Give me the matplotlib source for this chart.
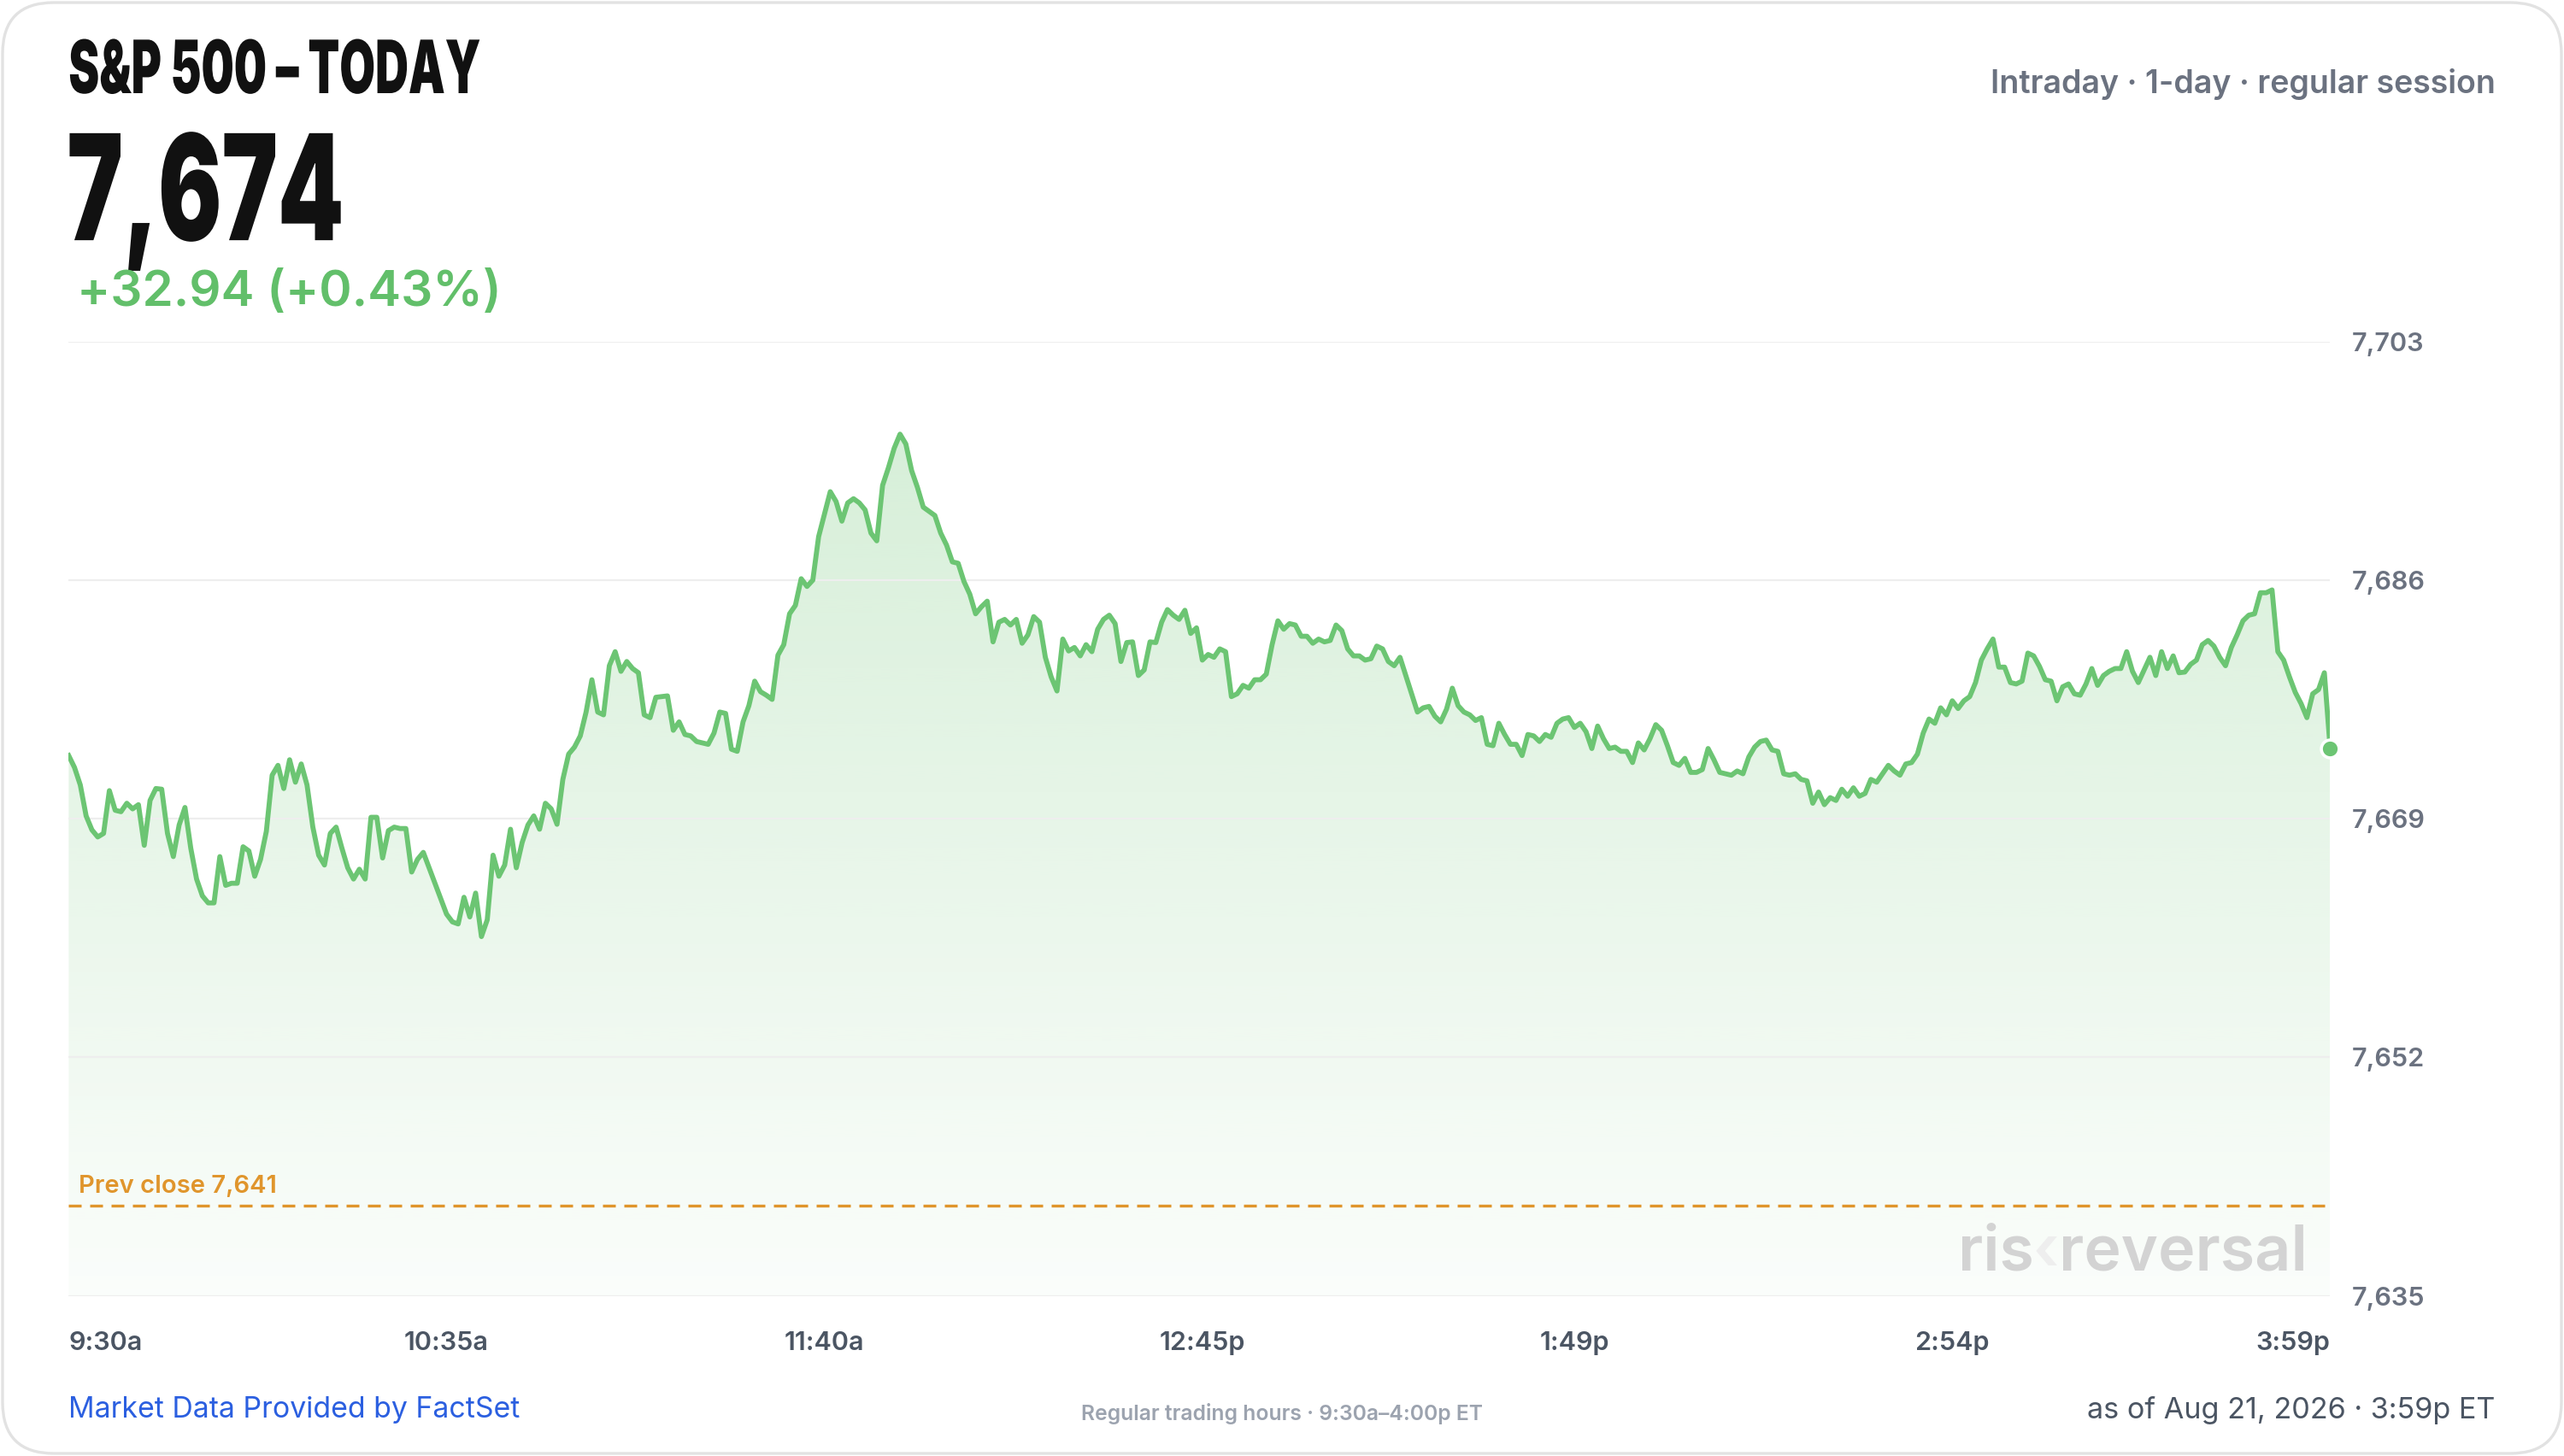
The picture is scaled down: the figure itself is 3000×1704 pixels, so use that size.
import numpy as np
import matplotlib
matplotlib.use("Agg")
import matplotlib.pyplot as plt
from matplotlib import font_manager as fm
from matplotlib import patheffects as pe
from matplotlib.patches import FancyBboxPatch
from matplotlib.colors import to_rgb
from matplotlib.transforms import Affine2D

# S&P 500 one-minute closes, 9:30a .. 3:59p
PRICES = [
    7673.5, 7672.65, 7671.4, 7669.2, 7668.2, 7667.7, 7667.95, 7671.0, 7669.6, 7669.5,
    7670.1, 7669.7, 7670.0, 7667.1, 7670.3, 7671.15, 7671.1, 7667.95, 7666.3, 7668.55,
    7669.8, 7666.9, 7664.7, 7663.5, 7663.0, 7663.0, 7666.3, 7664.25, 7664.4, 7664.4,
    7667.0, 7666.7, 7664.9, 7666.1, 7668.1, 7672.1, 7672.8, 7671.15, 7673.2, 7671.6,
    7672.9, 7671.4, 7668.4, 7666.4, 7665.7, 7667.95, 7668.4, 7666.9, 7665.5, 7664.7,
    7665.4, 7664.7, 7669.1, 7669.1, 7666.2, 7668.15, 7668.4, 7668.3, 7668.3, 7665.2,
    7666.1, 7666.6, 7665.5, 7664.4, 7663.3, 7662.2, 7661.65, 7661.5, 7663.4, 7662.0,
    7663.7, 7660.6, 7661.8, 7666.4, 7664.9, 7665.7, 7668.25, 7665.5, 7667.3, 7668.55,
    7669.2, 7668.25, 7670.1, 7669.7, 7668.6, 7671.8, 7673.6, 7674.1, 7674.9, 7676.6,
    7678.9, 7676.6, 7676.4, 7679.9, 7680.9, 7679.5, 7680.2, 7679.7, 7679.4, 7676.4,
    7676.2, 7677.65, 7677.7, 7677.75, 7675.3, 7675.9, 7675.0, 7674.9, 7674.5, 7674.4,
    7674.3, 7675.1, 7676.6, 7676.5, 7673.95, 7673.8, 7675.9, 7677.05, 7678.8, 7678.05,
    7677.8, 7677.5, 7680.65, 7681.4, 7683.6, 7684.2, 7686.1, 7685.55, 7686.0, 7689.1,
    7690.7, 7692.3, 7691.6, 7690.2, 7691.5, 7691.8, 7691.5, 7691.0, 7689.35, 7688.8,
    7692.75, 7694.0, 7695.4, 7696.4, 7695.7, 7693.8, 7692.6, 7691.2, 7690.9, 7690.6,
    7689.35, 7688.5, 7687.3, 7687.2, 7685.9, 7685.0, 7683.6, 7684.1, 7684.5, 7681.6,
    7683.0, 7683.2, 7682.8, 7683.2, 7681.5, 7682.1, 7683.4, 7683.0, 7680.5, 7679.1,
    7678.1, 7681.8, 7680.95, 7681.2, 7680.6, 7681.4, 7680.9, 7682.5, 7683.2, 7683.5,
    7682.9, 7680.2, 7681.55, 7681.6, 7679.2, 7679.6, 7681.6, 7681.55, 7683.0, 7683.9,
    7683.5, 7683.2, 7683.85, 7682.2, 7682.6, 7680.3, 7680.7, 7680.5, 7681.1, 7680.9,
    7677.7, 7677.9, 7678.5, 7678.3, 7678.9, 7678.9, 7679.3, 7681.4, 7683.1, 7682.5,
    7682.9, 7682.8, 7682.0, 7682.0, 7681.5, 7681.8, 7681.6, 7681.7, 7682.8, 7682.4,
    7681.1, 7680.6, 7680.6, 7680.3, 7680.4, 7681.3, 7681.1, 7680.2, 7679.9, 7680.5,
    7679.2, 7677.9, 7676.6, 7676.9, 7677.0, 7676.3, 7675.9, 7676.8, 7678.3, 7677.05,
    7676.6, 7676.4, 7676.0, 7676.2, 7674.3, 7674.2, 7675.8, 7675.0, 7674.3, 7674.3,
    7673.5, 7675.0, 7674.9, 7674.5, 7675.0, 7674.8, 7675.8, 7676.1, 7676.2, 7675.5,
    7675.8, 7675.2, 7674.0, 7675.6, 7674.7, 7674.0, 7674.1, 7673.8, 7673.8, 7673.0,
    7674.4, 7673.9, 7674.7, 7675.7, 7675.3, 7674.2, 7673.0, 7672.8, 7673.3, 7672.3,
    7672.3, 7672.5, 7674.0, 7673.2, 7672.3, 7672.2, 7672.1, 7672.4, 7672.2, 7673.4,
    7674.1, 7674.5, 7674.6, 7673.9, 7673.8, 7672.2, 7672.1, 7672.2, 7671.8, 7671.7,
    7670.1, 7670.9, 7670.0, 7670.5, 7670.3, 7671.1, 7670.6, 7671.2, 7670.6, 7670.8,
    7671.8, 7671.6, 7672.2, 7672.8, 7672.4, 7672.1, 7672.9, 7673.0, 7673.6, 7675.1,
    7676.1, 7675.8, 7676.9, 7676.4, 7677.4, 7676.85, 7677.4, 7677.7, 7678.7, 7680.3,
    7681.1, 7681.8, 7679.8, 7679.8, 7678.7, 7678.6, 7678.8, 7680.8, 7680.6, 7679.85,
    7678.9, 7678.8, 7677.4, 7678.4, 7678.6, 7677.9, 7677.8, 7678.6, 7679.7, 7678.5,
    7679.2, 7679.5, 7679.7, 7679.7, 7680.9, 7679.5, 7678.7, 7679.6, 7680.5, 7679.2,
    7680.9, 7679.7, 7680.6, 7679.4, 7679.45, 7680.0, 7680.3, 7681.4, 7681.7, 7681.3,
    7680.5, 7679.9, 7681.2, 7682.1, 7683.1, 7683.5, 7683.6, 7685.1, 7685.1, 7685.3,
    7680.9, 7680.3, 7679.1, 7678.0, 7677.2, 7676.2, 7677.9, 7678.2, 7679.4, 7674.0,
]
PREV_CLOSE = 7641.4
LAST_LABEL = "7,674"
CHANGE_LABEL = "+32.94 (+0.43%)"
Y_TICKS = [7635, 7652, 7669, 7686, 7703]
X_TICKS = [0, 65, 130, 195, 259, 324, 389]          # minutes after 9:30
X_LABELS = ["9:30a", "10:35a", "11:40a", "12:45p", "1:49p", "2:54p", "3:59p"]

GREEN = "#6cc573"
GREEN_TXT = "#62bf6a"
ORANGE = "#e0952c"
GRAY = "#6b7280"
DARK_GRAY = "#4b5563"
GRID = "#eeeeee"

_names = {f.name for f in fm.fontManager.ttflist}
UI = "Inter" if "Inter" in _names else "DejaVu Sans"

W, H = 1568, 891  # reference layout units


def fx(px):
    return px / W


def fy(py):
    return 1 - py / H


class HStretch(pe.AbstractPathEffect):
    """Squeeze glyphs horizontally (poor man's condensed face)."""
    def __init__(self, sx):
        super().__init__()
        self.sx = sx

    def draw_path(self, renderer, gc, tpath, affine, rgbFace=None):
        renderer.draw_path(gc, tpath, Affine2D().scale(self.sx, 1) + affine, rgbFace)


fig = plt.figure(figsize=(15, 8.52), dpi=200)
fig.patch.set_facecolor("white")

# card border
card = FancyBboxPatch((3, 3), 2994, 1698, boxstyle="round,pad=0,rounding_size=60",
                      transform=None, facecolor="white", edgecolor="#e2e2e2", lw=1.2, zorder=-5)
fig.patches.append(card)

ax = fig.add_axes([fx(42), fy(793), fx(1425) - fx(42), fy(209) - fy(793)])
ax.set_facecolor("none")
x = np.arange(len(PRICES))
y = np.array(PRICES)

# gradient fill clipped under the line
grad = np.zeros((256, 1, 4))
grad[..., :3] = to_rgb(GREEN)
grad[:, 0, 3] = np.linspace(0.03, 0.30, 256)
im = ax.imshow(grad, extent=(0, x[-1], Y_TICKS[0], Y_TICKS[-1]), origin="lower",
               aspect="auto", interpolation="bilinear", zorder=1)
poly = ax.fill_between(x, y, Y_TICKS[0], color="none", lw=0)
im.set_clip_path(poly.get_paths()[0], transform=ax.transData)

ax.plot(x, y, color=GREEN, lw=2.1, zorder=4, solid_joinstyle="round")
ax.plot(x[-1], y[-1], "o", ms=7.5, color=GREEN, mec="white", mew=1.3, zorder=5, clip_on=False)

ax.axhline(PREV_CLOSE, color=ORANGE, lw=1.2, ls=(0, (4.5, 3)), zorder=3)
ax.text(1.7, 7642.8, f"Prev close {PREV_CLOSE:,.0f}", color=ORANGE, fontsize=10.5,
        fontweight="semibold", family=UI, va="center", ha="left", zorder=5)

ax.set_xlim(0, x[-1])
ax.set_ylim(Y_TICKS[0], Y_TICKS[-1])
ax.set_yticks(Y_TICKS)
ax.set_yticklabels([f"{v:,}" for v in Y_TICKS])
ax.yaxis.tick_right()
ax.grid(True, axis="y", color=GRID, lw=0.8, zorder=0)
ax.set_xticks(X_TICKS)
ax.set_xticklabels(X_LABELS)
ax.tick_params(axis="y", length=0, pad=9, labelsize=11, labelcolor=GRAY)
ax.tick_params(axis="x", length=0, pad=15, labelsize=11, labelcolor=DARK_GRAY)
for lab in ax.get_yticklabels() + ax.get_xticklabels():
    lab.set_fontfamily(UI)
    lab.set_fontweight("semibold")
xl = ax.get_xticklabels()
xl[0].set_ha("left")
xl[-1].set_ha("right")
for s in ax.spines.values():
    s.set_visible(False)

# header
fig.text(fx(42), fy(57), "S&P 500 – TODAY", family=UI, fontweight="black",
         fontsize=31, color="#111111", ha="left", va="baseline",
         path_effects=[HStretch(0.625)])
fig.text(fx(41), fy(147), LAST_LABEL, family=UI, fontweight="black",
         fontsize=62, color="#111111", ha="left", va="baseline",
         path_effects=[HStretch(0.64)])
fig.text(fx(47), fy(187), CHANGE_LABEL, family=UI, fontweight="semibold",
         fontsize=21, color=GREEN_TXT, ha="left", va="baseline")
fig.text(fx(1526), fy(57), "Intraday · 1-day · regular session", family=UI,
         fontweight="semibold", fontsize=13.5, color=GRAY, ha="right", va="baseline")

# watermark: "ris" + faint chevron + "reversal", chained right to left
wm_kw = dict(family=UI, fontweight="semibold", fontsize=26.5, ha="right", va="bottom",
             annotation_clip=False)
wm_tail = fig.text(fx(1411), fy(785), "reversal", family=UI, fontweight="semibold",
                   fontsize=26.5, color="#d3d3d3", ha="right", va="bottom")
wm_mid = ax.annotate("\u2039", xy=(0, 0), xycoords=wm_tail, xytext=(1, 0),
                     textcoords="offset pixels", color="#eeeeee", **wm_kw)
ax.annotate("ris", xy=(0, 0), xycoords=wm_mid, xytext=(1, 0),
            textcoords="offset pixels", color="#d3d3d3", **wm_kw)

# footer
fig.text(fx(42), fy(863), "Market Data Provided by FactSet", family=UI, fontsize=12.2,
         color="#2b5fe0", ha="left", va="center")
fig.text(fx(784), fy(865), "Regular trading hours · 9:30a\u20134:00p ET", family=UI,
         fontweight="semibold", fontsize=8.9, color="#9ca3af", ha="center", va="center")
fig.text(fx(1526), fy(863), "as of Aug 21, 2026 · 3:59p ET", family=UI, fontsize=12.3,
         color=DARK_GRAY, ha="right", va="center")

fig.savefig("out.png", dpi=200, facecolor="white")
